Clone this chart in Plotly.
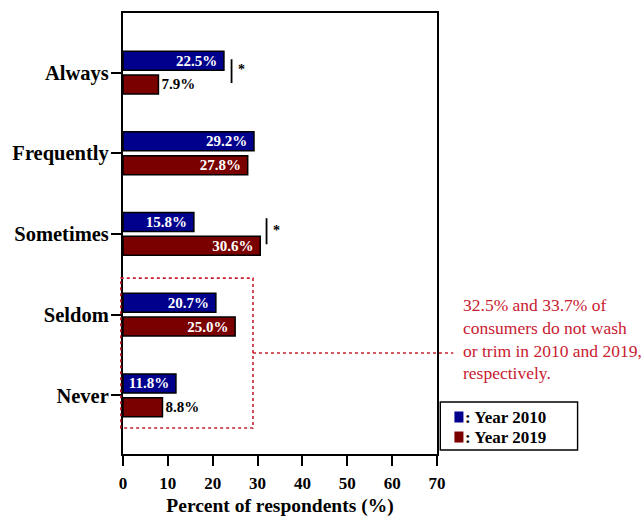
import plotly.graph_objects as go

# Survey data: how often consumers wash or trim, by year
categories = ["Always", "Frequently", "Sometimes", "Seldom", "Never"]
pct_2010 = [22.5, 29.2, 15.8, 20.7, 11.8]
pct_2019 = [7.9, 27.8, 30.6, 25.0, 8.8]
pos_2010 = ["inside", "inside", "inside", "inside", "inside"]
pos_2019 = ["outside", "inside", "inside", "inside", "outside"]
x_ticks = [0, 10, 20, 30, 40, 50, 60, 70]

BLUE = "#00008c"
RED = "#7a0000"
NOTE_RED = "#c8202f"
SERIF = "Liberation Serif, Times New Roman, serif"

fig = go.Figure()

bar_common = dict(
    orientation="h",
    width=0.235,
    texttemplate="%{x:.1f}%\u00a0",
    insidetextanchor="end",
    textangle=0,
    constraintext="none",
    insidetextfont=dict(family=SERIF, size=15, color="white", weight="bold"),
    outsidetextfont=dict(family=SERIF, size=15, color="black", weight="bold"),
    cliponaxis=False,
    showlegend=False,
)

fig.add_trace(go.Bar(
    y=categories, x=pct_2010, name="Year 2010", offset=-0.265,
    textposition=pos_2010,
    marker=dict(color=BLUE, line=dict(color="black", width=1.5)),
    **bar_common,
))
fig.add_trace(go.Bar(
    y=categories, x=pct_2019, name="Year 2019", offset=0.03,
    textposition=pos_2019,
    marker=dict(color=RED, line=dict(color="black", width=1.5)),
    **bar_common,
))

shapes = []
annotations = []

# significance brackets
for x_pos, y0, y1, idx in [(24.2, -0.165, 0.13, 0), (32.0, -0.195, 0.128, 2)]:
    shapes.append(dict(type="line", xref="x", yref="y", x0=x_pos, x1=x_pos,
                       y0=idx + y0, y1=idx + y1, line=dict(color="black", width=1.8)))
    annotations.append(dict(xref="x", yref="y", x=x_pos + 0.9, y=idx - 0.04, text="*",
                            showarrow=False, xanchor="left", yanchor="middle",
                            font=dict(family=SERIF, size=14, color="black", weight="bold")))

# dotted grouping box around Seldom / Never and its connector
shapes.append(dict(type="rect", xref="paper", yref="y", x0=-0.007, x1=0.414,
                   y0=2.547, y1=4.405, line=dict(color=NOTE_RED, width=1.6, dash="dot")))
shapes.append(dict(type="line", xref="paper", yref="y", x0=0.414, x1=1.052,
                   y0=3.476, y1=3.476, line=dict(color=NOTE_RED, width=1.6, dash="dot")))

annotations.append(dict(
    xref="paper", yref="paper", x=1.078, y=0.261, xanchor="left", yanchor="middle",
    align="left", showarrow=False,
    text="32.5% and 33.7% of<br>consumers do not wash<br>or trim in 2010 and 2019,<br>respectively.",
    font=dict(family=SERIF, size=17.5, color=NOTE_RED),
))

# legend box
shapes.append(dict(type="rect", xref="paper", yref="paper", x0=1.0105, x1=1.4477,
                   y0=0.009, y1=0.118, line=dict(color="black", width=1.4)))
for color, label, yc in [(BLUE, ": Year 2010", 0.0839), (RED, ": Year 2019", 0.0385)]:
    shapes.append(dict(type="rect", xref="paper", yref="paper", x0=1.0555, x1=1.0842,
                       y0=yc - 0.0125, y1=yc + 0.0125, line=dict(width=0), fillcolor=color))
    annotations.append(dict(xref="paper", yref="paper", x=1.084, y=yc, xanchor="left",
                            yanchor="middle", showarrow=False, text=label,
                            font=dict(family=SERIF, size=17, color="black", weight="bold")))

fig.update_layout(
    width=644, height=517,
    margin=dict(l=123, r=207, t=13, b=63),
    plot_bgcolor="white", paper_bgcolor="white",
    barmode="group",
    shapes=shapes, annotations=annotations,
    xaxis=dict(
        range=[0, 70], tickvals=x_ticks, showgrid=False, zeroline=False,
        automargin=False,
        showline=True, linecolor="black", linewidth=2.2, mirror=True,
        ticks="outside", ticklen=10, tickwidth=2.2, tickcolor="black",
        ticklabelstandoff=2,
        tickfont=dict(family=SERIF, size=17, color="black", weight="bold"),
        title=dict(text="Percent of respondents (%)", standoff=14,
                   font=dict(family=SERIF, size=19.5, color="black", weight="bold")),
    ),
    yaxis=dict(
        type="category", categoryorder="array", categoryarray=categories,
        range=[4.727, -0.738], showgrid=False, zeroline=False,
        automargin=False,
        showline=True, linecolor="black", linewidth=2.2, mirror=True,
        ticks="outside", ticklen=10, tickwidth=2.2, tickcolor="black",
        ticklabelstandoff=-2,
        tickfont=dict(family=SERIF, size=20.5, color="black", weight="bold"),
    ),
)

fig.write_html("out.html")
